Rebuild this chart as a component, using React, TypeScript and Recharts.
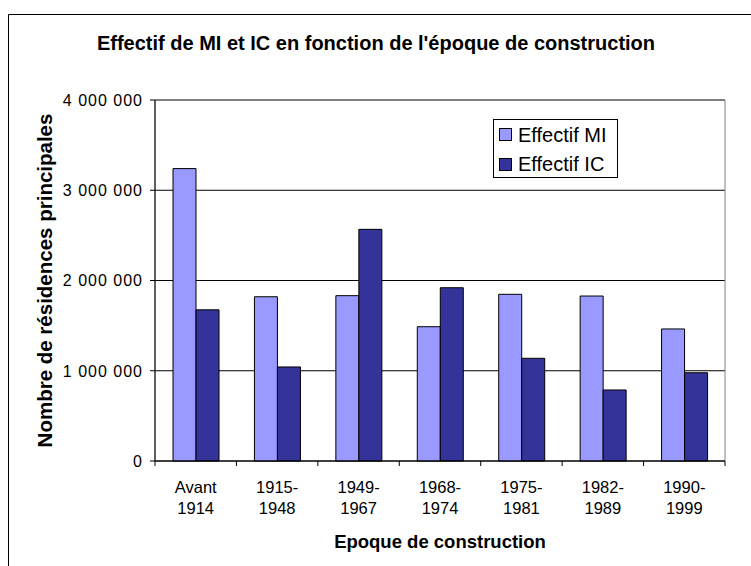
import React from "react";
import {
  BarChart,
  Bar,
  XAxis,
  YAxis,
  CartesianGrid,
  Legend,
  ReferenceArea,
} from "recharts";

// ---- data ----
const categories = [
  "Avant 1914",
  "1915-1948",
  "1949-1967",
  "1968-1974",
  "1975-1981",
  "1982-1989",
  "1990-1999",
];
const effectifMI = [3240000, 1820000, 1832000, 1488000, 1847000, 1828000, 1463000];
const effectifIC = [1675000, 1042000, 2567000, 1920000, 1138000, 787000, 978000];
const yTicks = [0, 1000000, 2000000, 3000000, 4000000];

const seriesKeys = ["mi", "ic"];
const seriesNames: Record<string, string> = { mi: "Effectif MI", ic: "Effectif IC" };
const title = "Effectif de MI et IC en fonction de l'époque de construction";
const xTitle = "Epoque de construction";
const yTitle = "Nombre de résidences principales";

const data = categories.map((c, i) => ({
  cat: c,
  mi: effectifMI[i],
  ic: effectifIC[i],
}));

// ---- layout ----
const W = 751;
const H = 566;
const MARGIN = { top: 100, right: 26, bottom: 0, left: 0 };
const Y_AXIS_W = 155;
const X_AXIS_H = 105;
const PLOT_W = W - MARGIN.left - MARGIN.right - Y_AXIS_W;
const FONT = "'Liberation Sans', Arial, sans-serif";

const fmt = (n: number) =>
  String(Math.round(n)).replace(/\B(?=(\d{3})+(?!\d))/g, " ");

const splitCat = (c: string): string[] => {
  if (c.includes(" ")) return c.split(" ");
  const k = c.indexOf("-");
  return [c.slice(0, k + 1), c.slice(k + 1)];
};

const XTick = (props: any) => {
  const { x, y, payload, index } = props;
  const band = PLOT_W / categories.length;
  const lines = splitCat(String(payload.value));
  const left = x - band / 2;
  const right = x + band / 2;
  return (
    <g>
      <line x1={left} y1={y} x2={left} y2={y + 5} stroke="#000" />
      {index === categories.length - 1 && (
        <line x1={right} y1={y} x2={right} y2={y + 5} stroke="#000" />
      )}
      <text
        x={x}
        y={y + 32}
        textAnchor="middle"
        fontFamily={FONT}
        fontSize={16.5}
        fill="#000"
      >
        {lines[0]}
      </text>
      <text
        x={x}
        y={y + 53}
        textAnchor="middle"
        fontFamily={FONT}
        fontSize={16.5}
        fill="#000"
      >
        {lines[1]}
      </text>
    </g>
  );
};

const YTick = (props: any) => {
  const { x, y, payload } = props;
  return (
    <text
      x={x}
      y={y}
      dy="0.36em"
      textAnchor="end"
      fontFamily={FONT}
      fontSize={16}
      letterSpacing={1}
      fill="#000"
    >
      {fmt(payload.value)}
    </text>
  );
};

const XLabel = (props: any) => {
  const vb = props.viewBox || {};
  return (
    <text
      x={vb.x + vb.width / 2}
      y={vb.y + 87}
      textAnchor="middle"
      fontFamily={FONT}
      fontSize={18.5}
      fontWeight="bold"
      fill="#000"
    >
      {xTitle}
    </text>
  );
};

const YLabel = (props: any) => {
  const vb = props.viewBox || {};
  const cx = vb.x + 52;
  const cy = vb.y + vb.height / 2;
  return (
    <text
      x={cx}
      y={cy}
      transform={`rotate(-90 ${cx} ${cy})`}
      textAnchor="middle"
      fontFamily={FONT}
      fontSize={20.5}
      fontWeight="bold"
      fill="#000"
    >
      {yTitle}
    </text>
  );
};

const LegendBox = (props: any) => {
  const payload = [...(props.payload || [])].sort(
    (a: any, b: any) =>
      seriesKeys.indexOf(String(a.dataKey)) - seriesKeys.indexOf(String(b.dataKey))
  );
  return (
    <svg width={125} height={59} style={{ display: "block" }}>
      <rect x={0.5} y={0.5} width={124} height={58} fill="#fff" stroke="#000" />
      {payload.map((p: any, i: number) => (
        <g key={i}>
          <rect
            x={6.5}
            y={9.5 + i * 30}
            width={12}
            height={12}
            fill={p.color}
            stroke="#000"
          />
          <text
            x={25}
            y={22.5 + i * 29.5}
            fontFamily={FONT}
            fontSize={20}
            fill="#000"
          >
            {p.value}
          </text>
        </g>
      ))}
    </svg>
  );
};

export default function App() {
  return (
    <div
      style={{
        position: "absolute",
        left: 0,
        top: 0,
        width: W,
        height: H,
        overflow: "hidden",
        background: "#fff",
      }}
    >
      <BarChart
        width={W}
        height={H}
        data={data}
        margin={MARGIN}
        barSize={23}
        barGap={0}
      >
        <CartesianGrid vertical={false} stroke="#000" />
        <ReferenceArea
          y1={0}
          y2={4000000}
          fill="none"
          stroke="#808080"
          strokeWidth={1}
        />
        <XAxis
          dataKey="cat"
          interval={0}
          height={X_AXIS_H}
          tickLine={false}
          tickSize={0}
          tickMargin={0}
          axisLine={{ stroke: "#000" }}
          tick={XTick}
          label={{ content: XLabel }}
        />
        <YAxis
          width={Y_AXIS_W}
          domain={[0, 4000000]}
          ticks={yTicks}
          interval={0}
          tickSize={5}
          tickMargin={7}
          axisLine={{ stroke: "#000" }}
          tickLine={{ stroke: "#000" }}
          tick={YTick}
          label={{ content: YLabel }}
        />
        <Legend
          layout="vertical"
          align="center"
          verticalAlign="middle"
          content={LegendBox}
          wrapperStyle={{ left: 493, top: 119, width: 125, height: 59 }}
        />
        {seriesKeys.map((k) => (
          <Bar
            key={k}
            dataKey={k}
            name={seriesNames[k]}
            fill={k === "mi" ? "#9999FF" : "#333399"}
            stroke="#000"
            strokeWidth={1}
            isAnimationActive={false}
          />
        ))}
      </BarChart>
      <svg
        width={W}
        height={H}
        style={{ position: "absolute", left: 0, top: 0, pointerEvents: "none" }}
      >
        <line x1={8.5} y1={14.5} x2={W} y2={14.5} stroke="#000" />
        <line x1={8.5} y1={14.5} x2={8.5} y2={H} stroke="#000" />
        <text
          x={376}
          y={50}
          textAnchor="middle"
          fontFamily={FONT}
          fontSize={20}
          fontWeight="bold"
          fill="#000"
        >
          {title}
        </text>
      </svg>
    </div>
  );
}
